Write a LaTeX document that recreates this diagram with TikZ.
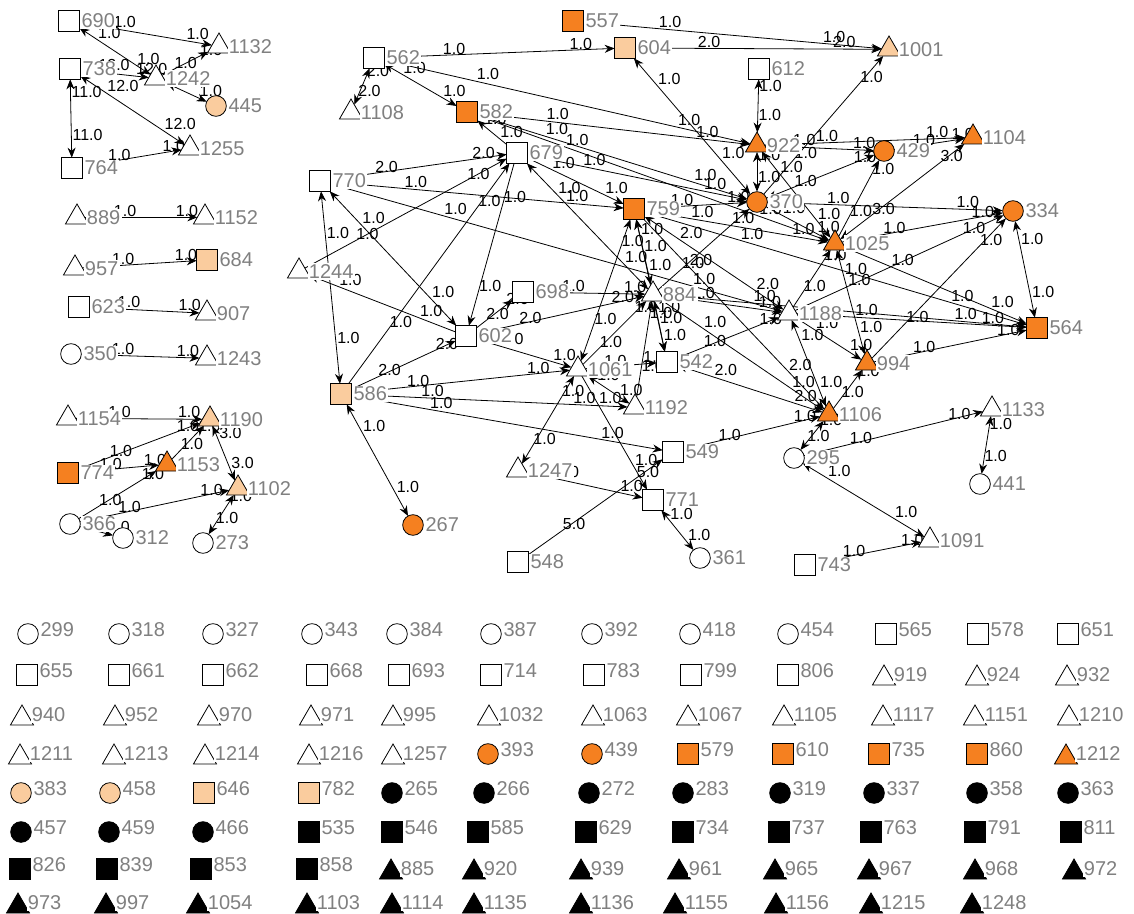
\documentclass[tikz,border=0pt]{standalone}
\usepackage{fontspec}
\setmainfont{Liberation Sans}
\usetikzlibrary{shapes.geometric,arrows.meta}
\pgfdeclarelayer{bg}
\pgfsetlayers{bg,main}
\definecolor{org}{RGB}{245,128,32}
\definecolor{pch}{RGB}{250,204,158}
\definecolor{lgray}{RGB}{128,128,128}
\tikzset{
 base/.style={draw=black, line width=0.6pt, inner sep=0pt, outer sep=0pt, fill=white},
 sq/.style={base, rectangle, minimum size=15.5pt},
 tri/.style={base, regular polygon, regular polygon sides=3, minimum size=20pt, yshift=-2.5pt},
 circ/.style={base, circle, minimum size=15.5pt},
 lab/.style={font=\fontsize{15}{16}\selectfont, text=lgray, fill=white, inner sep=1pt, label distance=0.5pt},
 leglab/.style={lab, yshift=3pt},
 elab/.style={font=\fontsize{12}{13}\selectfont, anchor=south west, inner sep=0.5pt},
 oneway/.style={line width=0.6pt, -{Stealth[length=7.5pt,width=6pt]}},
 twoway/.style={line width=0.6pt, {Stealth[length=7.5pt,width=6pt]}-{Stealth[length=7.5pt,width=6pt]}},
}
\newcommand{\mynode}[4]{\node[#1,label={[lab]0:#4}] (n#4) at (#2,#3) {};}
\newcommand{\edg}[4]{\draw[#1] (n#2) -- (n#3) node[elab,pos=0.25]{#4} node[elab,pos=0.8]{#4};}
\begin{document}
\begin{tikzpicture}[x=0.75pt,y=-0.75pt]
\useasboundingbox (0,0) rectangle (1134,913);
\begin{pgfonlayer}{bg}\fill[white] (0,0) rectangle (1134,913);\end{pgfonlayer}
% ---------- left clusters
\mynode{sq}{69}{21}{690}
\mynode{tri}{219}{43}{1132}
\mynode{sq}{70}{69}{738}
\mynode{tri}{156}{75}{1242}
\mynode{circ,fill=pch}{216}{106}{445}
\mynode{tri}{190}{145}{1255}
\mynode{sq}{72}{168}{764}
\mynode{tri}{77}{214}{889}
\mynode{tri}{205}{214}{1152}
\mynode{tri}{75}{265}{957}
\mynode{sq,fill=pch}{207}{260}{684}
\mynode{sq}{79}{307}{623}
\mynode{tri}{207}{310}{907}
\mynode{circ}{71}{354}{350}
\mynode{tri}{207}{355}{1243}
\mynode{tri}{68}{415}{1154}
\mynode{tri,fill=pch}{210}{416}{1190}
\mynode{tri,fill=org}{167}{461}{1153}
\mynode{sq,fill=org}{68}{473}{774}
\mynode{tri,fill=pch}{238}{485}{1102}
\mynode{circ}{70}{524}{366}
\mynode{circ}{123}{538}{312}
\mynode{circ}{203}{543}{273}
% ---------- main cluster
\mynode{sq,fill=org}{573}{21}{557}
\mynode{sq,fill=pch}{625}{48}{604}
\mynode{tri,fill=pch}{889}{46}{1001}
\mynode{sq}{374}{58}{562}
\mynode{tri}{351}{109}{1108}
\mynode{sq}{759}{69}{612}
\mynode{sq,fill=org}{467}{112}{582}
\mynode{tri,fill=org}{757}{142}{922}
\mynode{circ,fill=org}{884}{151}{429}
\mynode{tri,fill=org}{973}{134}{1104}
\mynode{sq}{517}{153}{679}
\mynode{sq}{320}{181}{770}
\mynode{circ,fill=org}{757}{202}{370}
\mynode{sq,fill=org}{634}{209}{759}
\mynode{circ,fill=org}{1013}{211}{334}
\mynode{tri,fill=org}{835}{240}{1025}
\mynode{tri}{299}{268}{1244}
\mynode{sq}{523}{292}{698}
\mynode{tri}{653}{291}{884}
\mynode{tri}{789}{310}{1188}
\mynode{sq,fill=org}{1037}{328}{564}
\mynode{sq}{466}{336}{602}
\mynode{tri,fill=org}{867}{360}{994}
\mynode{sq}{667}{362}{542}
\mynode{tri}{578}{366}{1061}
\mynode{sq,fill=pch}{341}{394}{586}
\mynode{tri}{635}{404}{1192}
\mynode{tri,fill=org}{829}{411}{1106}
\mynode{tri}{992}{406}{1133}
\mynode{sq}{673}{452}{549}
\mynode{circ}{794}{458}{295}
\mynode{tri}{518}{467}{1247}
\mynode{circ}{980}{484}{441}
\mynode{sq}{653}{500}{771}
\mynode{circ,fill=org}{413}{525}{267}
\mynode{tri}{930}{537}{1091}
\mynode{circ}{700}{558}{361}
\mynode{sq}{518}{562}{548}
\mynode{sq}{805}{565}{743}
% ---------- legend of isolates
\foreach \x/\t in {28/299,119/318,213/327,312/343,397/384,491/387,592/392,690/418,788/454}
  \node[circ,label={[leglab]0:\t}] (l\t) at (\x,634) {};
\foreach \x/\t in {886/565,978/578,1068/651}
  \node[sq,label={[leglab]0:\t}] (l\t) at (\x,634) {};
\foreach \x/\t in {27/655,119/661,213/662,317/668,399/693,491/714,594/783,691/799,788/806}
  \node[sq,label={[leglab]0:\t}] (l\t) at (\x,675) {};
\foreach \x/\t in {884/919,977/924,1067/932}
  \node[tri,label={[leglab]0:\t}] (l\t) at (\x,675) {};
\foreach \x/\t in {22/940,115/952,209/970,311/971,393/995,489/1032,593/1063,688/1067,784/1105,883/1117,975/1151,1069/1210}
  \node[tri,label={[leglab]0:\t}] (l\t) at (\x,715) {};
\foreach \x/\t in {20/1211,114/1213,205/1214,309/1216,393/1257}
  \node[tri,label={[leglab]0:\t}] (l\t) at (\x,754) {};
\foreach \x/\t in {488/393,592/439}
  \node[circ,fill=org,label={[leglab]0:\t}] (l\t) at (\x,754) {};
\foreach \x/\t in {688/579,783/610,879/735,977/860}
  \node[sq,fill=org,label={[leglab]0:\t}] (l\t) at (\x,754) {};
\node[tri,fill=org,label={[leglab]0:1212}] (l1212) at (1066,754) {};
\foreach \x/\t in {21/383,110/458}
  \node[circ,fill=pch,label={[leglab]0:\t}] (l\t) at (\x,793) {};
\foreach \x/\t in {204/646,309/782}
  \node[sq,fill=pch,label={[leglab]0:\t}] (l\t) at (\x,793) {};
\foreach \x/\t in {392/265,484/266,589/272,683/283,780/319,874/337,977/358,1068/363}
  \node[circ,fill=black,label={[leglab]0:\t}] (l\t) at (\x,793) {};
\foreach \x/\t in {21/457,109/459,203/466}
  \node[circ,fill=black,label={[leglab]0:\t}] (l\t) at (\x,832) {};
\foreach \x/\t in {309/535,392/546,478/585,586/629,683/734,779/737,871/763,975/791,1071/811}
  \node[sq,fill=black,label={[leglab]0:\t}] (l\t) at (\x,832) {};
\foreach \x/\t in {20/826,107/839,201/853,307/858}
  \node[sq,fill=black,label={[leglab]0:\t}] (l\t) at (\x,869) {};
\foreach \x/\t in {391/885,474/920,581/939,679/961,775/965,869/967,975/968,1074/972}
  \node[tri,fill=black,label={[leglab]0:\t}] (l\t) at (\x,869) {};
\foreach \x/\t in {18/973,106/997,198/1054,307/1103,392/1114,474/1135,581/1136,675/1155,776/1156,871/1215,972/1248}
  \node[tri,fill=black,label={[leglab]0:\t}] (l\t) at (\x,903) {};
% ---------- ties
\begin{pgfonlayer}{bg}
\edg{oneway}{690}{1132}{1.0}
\edg{twoway}{690}{1242}{1.0}
\edg{oneway}{1242}{1132}{1.0}
\edg{oneway}{738}{1242}{12.0}
\edg{twoway}{1242}{445}{1.0}
\edg{twoway}{738}{1255}{12.0}
\edg{twoway}{738}{764}{11.0}
\edg{oneway}{764}{1255}{1.0}
\edg{oneway}{889}{1152}{1.0}
\edg{oneway}{957}{684}{1.0}
\edg{oneway}{623}{907}{1.0}
\edg{oneway}{350}{1243}{1.0}
\edg{oneway}{1154}{1190}{1.0}
\edg{oneway}{774}{1190}{1.0}
\edg{oneway}{774}{1153}{1.0}
\edg{oneway}{1153}{1190}{1.0}
\edg{twoway}{1190}{1102}{3.0}
\edg{oneway}{366}{1153}{1.0}
\edg{oneway}{366}{1102}{1.0}
\edg{oneway}{366}{312}{1.0}
\edg{twoway}{273}{1102}{1.0}
%
\edg{oneway}{557}{1001}{1.0}
\edg{oneway}{604}{1001}{2.0}
\edg{oneway}{562}{604}{1.0}
\edg{twoway}{562}{1108}{2.0}
\edg{twoway}{562}{582}{1.0}
\edg{oneway}{562}{922}{1.0}
\edg{oneway}{582}{922}{1.0}
\edg{oneway}{582}{370}{1.0}
\edg{oneway}{582}{1025}{1.0}
\edg{oneway}{679}{582}{1.0}
\edg{twoway}{370}{604}{1.0}
\edg{oneway}{370}{1001}{1.0}
\edg{twoway}{612}{922}{1.0}
\edg{twoway}{922}{370}{1.0}
\edg{oneway}{922}{429}{1.0}
\edg{oneway}{922}{1104}{1.0}
\edg{twoway}{1025}{1104}{3.0}
\edg{oneway}{429}{1104}{1.0}
\edg{twoway}{370}{429}{1.0}
\edg{oneway}{1025}{429}{1.0}
\edg{twoway}{922}{1025}{1.0}
\edg{oneway}{370}{1025}{1.0}
\edg{oneway}{759}{1025}{1.0}
\edg{oneway}{759}{370}{1.0}
\edg{oneway}{679}{370}{1.0}
\edg{oneway}{370}{334}{1.0}
\edg{oneway}{1025}{334}{1.0}
\edg{twoway}{334}{564}{1.0}
\edg{oneway}{1188}{334}{1.0}
\edg{oneway}{994}{334}{1.0}
\edg{twoway}{1025}{994}{1.0}
\edg{oneway}{1025}{564}{1.0}
\edg{oneway}{759}{564}{1.0}
\edg{oneway}{1188}{564}{1.0}
\edg{oneway}{994}{564}{1.0}
\edg{oneway}{884}{564}{1.0}
\edg{oneway}{884}{1188}{1.0}
\edg{twoway}{759}{1188}{2.0}
\edg{oneway}{1188}{1025}{1.0}
\edg{oneway}{1188}{994}{1.0}
\edg{twoway}{1188}{1106}{1.0}
\edg{oneway}{759}{1106}{2.0}
\edg{oneway}{884}{1106}{1.0}
\edg{twoway}{542}{1106}{2.0}
\edg{oneway}{549}{1106}{1.0}
\edg{twoway}{295}{1106}{1.0}
\edg{oneway}{295}{1133}{1.0}
\edg{twoway}{1133}{441}{1.0}
\edg{twoway}{1091}{295}{1.0}
\edg{oneway}{743}{1091}{1.0}
\edg{twoway}{771}{361}{1.0}
\edg{oneway}{548}{549}{5.0}
\edg{oneway}{1247}{771}{1.0}
\edg{oneway}{586}{549}{1.0}
\edg{twoway}{1061}{1247}{1.0}
\edg{oneway}{1061}{771}{1.0}
\edg{twoway}{770}{586}{1.0}
\edg{twoway}{770}{602}{1.0}
\edg{oneway}{602}{1244}{1.0}
\edg{oneway}{1244}{679}{1.0}
\edg{oneway}{770}{679}{2.0}
\edg{oneway}{770}{759}{1.0}
\edg{oneway}{770}{1188}{1.0}
\edg{oneway}{586}{679}{1.0}
\edg{oneway}{679}{602}{1.0}
\edg{oneway}{602}{698}{2.0}
\edg{oneway}{602}{1061}{1.0}
\edg{oneway}{586}{602}{2.0}
\edg{oneway}{586}{1061}{1.0}
\edg{oneway}{586}{1192}{1.0}
\edg{twoway}{586}{267}{1.0}
\edg{oneway}{602}{884}{2.0}
\edg{oneway}{698}{884}{1.0}
\edg{twoway}{679}{884}{1.0}
\edg{oneway}{679}{759}{1.0}
\edg{twoway}{1192}{1061}{1.0}
\edg{twoway}{884}{542}{1.0}
\edg{oneway}{1061}{884}{1.0}
\edg{oneway}{1061}{542}{1.0}
\edg{oneway}{1192}{884}{1.0}
\edg{twoway}{759}{884}{1.0}
\edg{twoway}{1061}{759}{1.0}
\edg{twoway}{759}{542}{1.0}
\edg{oneway}{884}{370}{1.0}
\edg{oneway}{542}{1188}{1.0}
\edg{oneway}{1106}{994}{1.0}
\end{pgfonlayer}
\end{tikzpicture}
\end{document}
